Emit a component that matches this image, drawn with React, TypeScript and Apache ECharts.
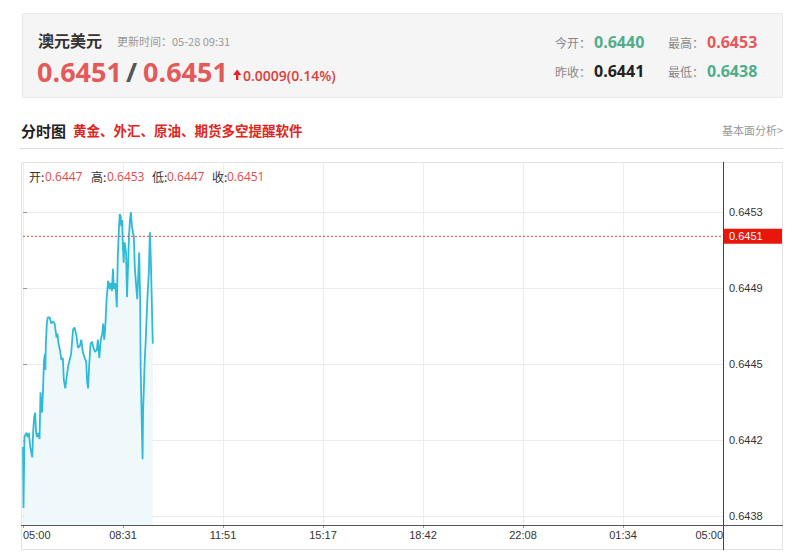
import React, { useEffect, useRef } from 'react';
import * as echarts from 'echarts';

// ---- header data ----
const pairName = '澳元美元';
const updateTime = '更新时间：05-28 09:31';
const bidAsk = ['0.6451', '0.6451'];
const changeText = '0.0009(0.14%)';
const statLabels = ['今开：', '最高：', '昨收：', '最低：'];
const statValues = ['0.6440', '0.6453', '0.6441', '0.6438'];
const sectionTitle = '分时图';
const sectionAd = '黄金、外汇、原油、期货多空提醒软件';
const sectionLink = '基本面分析>';
const ohlcLabels = ['开:', '高:', '低:', '收:'];
const ohlcValues = ['0.6447', '0.6453', '0.6447', '0.6451'];

// ---- axis data ----
const xTickLabels = ['05:00', '08:31', '11:51', '15:17', '18:42', '22:08', '01:34', '05:00'];
const yTickValues = [0.6438, 0.644175, 0.64455, 0.644925, 0.6453];
const yTickLabels = ['0.6438', '0.6442', '0.6445', '0.6449', '0.6453'];
const lastPriceLine = 0.64518;
const lastPriceLabel = '0.6451';

// ---- intraday trace: [minutes since 05:00, price] ----
const priceTrace: [number, number][] = [
  [0, 0.64414], [1, 0.64384], [3, 0.64419], [7, 0.64421], [10, 0.64419], [12, 0.64421],
  [15, 0.64414], [19, 0.64409], [21, 0.64422], [23, 0.64429], [25, 0.64431], [27, 0.64421],
  [29, 0.64419], [32, 0.64421], [34, 0.64418], [36, 0.64441], [39, 0.64431], [41, 0.64441],
  [43, 0.64456], [45, 0.6446], [46, 0.64452], [47, 0.64465], [49, 0.64475], [51, 0.64478],
  [55, 0.64478], [58, 0.64475], [62, 0.64476], [65, 0.64475], [69, 0.64468], [71, 0.6447],
  [73, 0.64465], [76, 0.64462], [79, 0.64457], [82, 0.64458], [84, 0.64447], [87, 0.64443],
  [90, 0.64449], [93, 0.64454], [96, 0.64457], [99, 0.6446], [103, 0.64472], [106, 0.64473],
  [110, 0.64469], [113, 0.64463], [117, 0.64464], [120, 0.64467], [123, 0.64461], [127, 0.64458],
  [130, 0.64456], [132, 0.64446], [134, 0.64443], [136, 0.64454], [139, 0.64465], [142, 0.64466],
  [145, 0.64463], [148, 0.64461], [152, 0.64462], [154, 0.64467], [157, 0.64458], [160, 0.64467],
  [163, 0.6447], [165, 0.64475], [167, 0.64467], [169, 0.64472], [172, 0.64487], [175, 0.64496],
  [178, 0.64492], [180, 0.64495], [183, 0.64491], [185, 0.64502], [187, 0.64492], [190, 0.64495],
  [193, 0.64483], [195, 0.64508], [197, 0.6452], [199, 0.64529], [201, 0.64528], [202, 0.64523],
  [204, 0.64526], [205, 0.64516], [207, 0.64505], [209, 0.64515], [212, 0.6451], [214, 0.64488],
  [216, 0.64503], [218, 0.64518], [220, 0.64526], [222, 0.6453], [224, 0.64523], [226, 0.6452],
  [228, 0.64518], [230, 0.64503], [232, 0.64496], [235, 0.64487], [237, 0.64498], [239, 0.6451],
  [241, 0.64487], [242, 0.64454], [243, 0.64442], [245, 0.64418], [246, 0.64408], [247, 0.64431],
  [250, 0.64454], [253, 0.6447], [256, 0.64488], [259, 0.64501], [261, 0.6452], [263, 0.64506],
  [267, 0.64465],
];

const DAY_MINUTES = 1440;
const X_STEP = DAY_MINUTES / 7;
const Y_MIN = 0.6437556;
const Y_MAX = 0.6455467;

const CJK = '"Noto Sans CJK SC", "Open Sans", sans-serif';
const NUM = '"Open Sans", "Noto Sans CJK SC", sans-serif';
const AXIS_FONT = '"Liberation Sans", Arial, sans-serif';

const RED = '#e45a5a';
const GREEN = '#4fae8a';

function txt(text: string, x: number, y: number, size: number, color: string, opts: any = {}) {
  return {
    type: 'text',
    silent: true,
    z: 10,
    style: {
      text,
      x,
      y,
      fontSize: size,
      fontFamily: opts.family || CJK,
      fontWeight: opts.weight || 'normal',
      fill: color,
      align: opts.align || 'left',
      verticalAlign: 'middle',
    },
  };
}

export default function App() {
  const ref = useRef<HTMLDivElement>(null);

  useEffect(() => {
    if (!ref.current) return;
    const chart = echarts.init(ref.current, undefined, { renderer: 'svg' });

    const statColors = [GREEN, RED, '#222222', GREEN];
    const statPos = [
      [555, 594, 42],
      [668, 707, 42],
      [555, 594, 71],
      [668, 707, 71],
    ];
    const statGraphics: any[] = [];
    statLabels.forEach((l, i) => {
      const [lx, vx, y] = statPos[i];
      statGraphics.push(txt(l, lx, y, 12, '#888888'));
      statGraphics.push(txt(statValues[i], vx, y, 16, statColors[i], { weight: 'bold', family: NUM }));
    });

    const ohlcLabelX = [29, 91, 152, 212];
    const ohlcValueX = [45, 107, 167, 227];
    const ohlcGraphics: any[] = [];
    ohlcLabels.forEach((l, i) => {
      ohlcGraphics.push(txt(l, ohlcLabelX[i], 176, 12, '#333333'));
      ohlcGraphics.push(txt(ohlcValues[i], ohlcValueX[i], 176, 12, '#e04a4a', { family: NUM }));
    });

    const option: any = {
      animation: false,
      backgroundColor: '#ffffff',
      grid: { left: 23, right: 77, top: 162, bottom: 32, containLabel: false },
      xAxis: {
        type: 'value',
        min: 0,
        max: DAY_MINUTES,
        interval: X_STEP,
        axisLine: { show: false },
        axisTick: { show: true, length: 3, lineStyle: { color: '#999' } },
        splitLine: { show: true, lineStyle: { color: '#ececec', width: 1 } },
        axisLabel: {
          color: '#333',
          fontSize: 11,
          fontFamily: AXIS_FONT,
          margin: 4,
          showMinLabel: true,
          showMaxLabel: true,
          alignMinLabel: 'left',
          alignMaxLabel: 'right',
          formatter: (v: number) => xTickLabels[Math.round(v / X_STEP)] ?? '',
        },
      },
      yAxis: {
        type: 'value',
        position: 'right',
        min: Y_MIN,
        max: Y_MAX,
        axisLine: { show: false },
        axisTick: { show: true, length: 4, customValues: yTickValues, lineStyle: { color: '#999' } },
        splitLine: { show: true, lineStyle: { color: '#ececec', width: 1 } },
        axisLabel: {
          customValues: yTickValues,
          color: '#333',
          fontSize: 11,
          fontFamily: AXIS_FONT,
          margin: 6,
          formatter: (v: number) => {
            let best = 0;
            yTickValues.forEach((t, i) => {
              if (Math.abs(t - v) < Math.abs(yTickValues[best] - v)) best = i;
            });
            return yTickLabels[best];
          },
        },
      },
      series: [
        {
          type: 'line',
          data: priceTrace,
          showSymbol: false,
          symbol: 'none',
          z: 3,
          lineStyle: { color: '#2fbad6', width: 1.8 },
          areaStyle: { color: '#eff9fc', opacity: 1 },
        },
        {
          type: 'line',
          name: 'last',
          data: [[0, lastPriceLine], [DAY_MINUTES, lastPriceLine]],
          showSymbol: false,
          symbol: 'none',
          silent: true,
          z: 4,
          lineStyle: { color: '#e2483c', type: [2, 2], width: 1 },
          endLabel: {
            show: true,
            distance: 1,
            formatter: () => lastPriceLabel,
            color: '#ffffff',
            backgroundColor: '#e8170c',
            padding: [2, 4, 2, 5],
            width: 49,
            fontSize: 11,
            fontFamily: AXIS_FONT,
          },
        },
      ],
      graphic: [
        // header box
        {
          type: 'rect', silent: true, z: 1,
          shape: { x: 22.5, y: 13.5, width: 760, height: 84 },
          style: { fill: '#f5f5f5', stroke: '#e9e9e9', lineWidth: 1 },
        },
        txt(pairName, 38, 40, 16, '#333333', { weight: 'bold' }),
        txt(updateTime, 117, 41, 11, '#999999'),
        txt(bidAsk[0], 37, 71, 27, RED, { weight: 'bold', family: NUM }),
        txt('/', 126, 71, 27, '#555555', { weight: 'bold', family: NUM }),
        txt(bidAsk[1], 143, 71, 27, RED, { weight: 'bold', family: NUM }),
        {
          type: 'polygon', silent: true, z: 10,
          shape: { points: [[233, 75], [237.2, 69.5], [241.4, 75], [238.4, 75], [238.4, 80], [236, 80], [236, 75]] },
          style: { fill: '#e0262a' },
        },
        txt(changeText, 243, 75, 14, '#e03c3c', { weight: 600, family: NUM }),
        ...statGraphics,
        // section title
        txt(sectionTitle, 21, 130, 15, '#222222', { weight: 'bold' }),
        txt(sectionAd, 73, 130, 13.5, '#e1251b', { weight: 'bold' }),
        txt(sectionLink, 783, 130, 11, '#999999', { align: 'right' }),
        {
          type: 'line', silent: true, z: 1,
          shape: { x1: 20, y1: 148.5, x2: 783, y2: 148.5 },
          style: { stroke: '#dddddd', lineWidth: 1 },
        },
        // chart frame
        {
          type: 'rect', silent: true, z: -1,
          shape: { x: 21.5, y: 162.5, width: 761, height: 387 },
          style: { fill: 'none', stroke: '#e3e3e3', lineWidth: 1 },
        },
        {
          type: 'line', silent: true, z: 20,
          shape: { x1: 21, y1: 525.5, x2: 783, y2: 525.5 },
          style: { stroke: '#555555', lineWidth: 1 },
        },
        {
          type: 'line', silent: true, z: 20,
          shape: { x1: 723.5, y1: 162, x2: 723.5, y2: 550 },
          style: { stroke: '#444444', lineWidth: 1 },
        },
        ...ohlcGraphics,
      ],
    };

    chart.setOption(option);
    return () => chart.dispose();
  }, []);

  return (
    <div
      ref={ref}
      style={{ position: 'absolute', left: 0, top: 0, width: 800, height: 557, background: '#fff' }}
    />
  );
}
